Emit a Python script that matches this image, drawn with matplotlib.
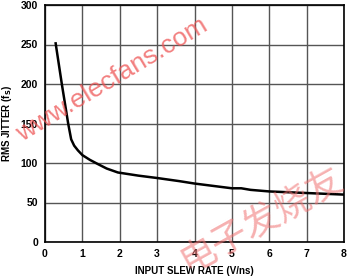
import numpy as np
import matplotlib
matplotlib.use('Agg')
import matplotlib.pyplot as plt

# values
slew = [0.28, 0.45, 0.62, 0.70, 0.78, 0.88, 1.0, 1.2, 1.4, 1.65, 1.95, 2.5, 3.0, 3.6, 4.0, 4.5, 5.0, 5.25, 5.5, 6.0, 6.5, 7.0, 7.5, 8.0]
jitter = [253, 200, 150, 130, 122, 116, 110, 104, 99, 93, 88, 84, 81, 77, 74, 71, 68, 68, 66, 64, 63, 62, 61, 60]

xticks = np.arange(0, 9, 1)
yticks = np.arange(0, 301, 50)

plt.rcParams['font.family'] = ['Liberation Sans', 'DejaVu Sans']

fig = plt.figure(figsize=(3.47, 2.77), dpi=100)
ax = fig.add_axes([45 / 347, 1 - 242 / 277, 299 / 347, 237 / 277])

ax.plot(slew, jitter, color='black', lw=1.8, solid_capstyle='butt')
ax.set_xlim(0, 8)
ax.set_ylim(0, 300)
ax.set_xticks(xticks)
ax.set_yticks(yticks)
ax.grid(True, color='#555555', lw=1.0)
ax.tick_params(length=0, pad=5, labelsize=7.5)
for lab in ax.get_xticklabels() + ax.get_yticklabels():
    lab.set_fontweight('bold')
for s in ax.spines.values():
    s.set_linewidth(1.2)

ax.set_xlabel('INPUT SLEW RATE (V/ns)', fontsize=7, fontweight='bold', labelpad=5)
ax.set_ylabel('RMS JITTER (f$_\\mathbf{S}$)', fontsize=7, fontweight='bold')
ax.yaxis.set_label_coords(-31 / 299, 0.5)

# watermarks
fig.text(112 / 347, 1 - 80 / 277, 'www.elecfans.com', color='#ee5555', alpha=0.75,
         fontsize=19, rotation=31, ha='center', va='center')
fig.text(262 / 347, 1 - 220 / 277, '电子发烧友', color='#f07070', alpha=0.55,
         fontsize=26, rotation=29, ha='center', va='center',
         family=['Noto Sans CJK SC', 'DejaVu Sans'], fontweight='light')

fig.savefig('out.png', dpi=100)
